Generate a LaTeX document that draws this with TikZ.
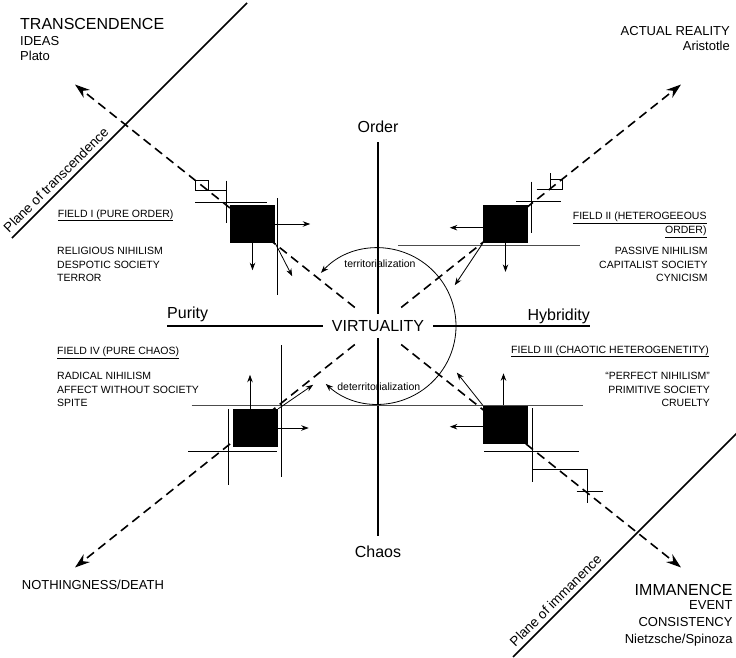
\documentclass[tikz,border=0pt]{standalone}
\usepackage{fontspec}
\setmainfont{Liberation Sans}
\usetikzlibrary{arrows.meta, positioning}

\tikzset{
  bigtxt/.style={font=\fontsize{16}{19}\selectfont, inner sep=0pt},
  midtxt/.style={font=\fontsize{13}{15.2}\selectfont, inner sep=0pt},
  smalltxt/.style={font=\fontsize{10.5}{13.4}\selectfont, inner sep=0pt},
  planetxt/.style={font=\fontsize{13.5}{16}\selectfont, inner sep=0pt, rotate=45, anchor=base west},
  fieldbox/.style={fill=black, minimum width=45pt, minimum height=38pt, inner sep=0pt},
  tend/.style={->, line width=.8pt},
  flow/.style={line width=1.6pt, dash pattern=on 9pt off 5.5pt, -{Stealth[length=15pt, width=10pt]}, shorten <=10pt},
  axisline/.style={line width=1.8pt},
  regline/.style={line width=.8pt},
  longline/.style={line width=1pt, draw=black!70},
  planeline/.style={line width=1.5pt}
}

\begin{document}
\begin{tikzpicture}[x=1pt, y=-1pt, >={Stealth[length=7.5pt, width=5.5pt]}]
\useasboundingbox (0,0) rectangle (736,658);

% corner labels (multi-line nodes sit on their last baseline)
\node[bigtxt, anchor=base west] (trans) at (20,29.3) {TRANSCENDENCE};
\node[midtxt, anchor=base west, align=left] (ideas) at (20,61) {IDEAS\\Plato};
\node[midtxt, anchor=base east, align=right] (actual) at (730,51) {ACTUAL REALITY\\Aristotle};
\node[midtxt, anchor=base west] (nothing) at (21.7,589.3) {NOTHINGNESS/DEATH};
\node[bigtxt, anchor=base east] (imman) at (732.7,595) {IMMANENCE};
\node[midtxt, anchor=base east, align=right, font=\fontsize{13}{16.8}\selectfont] (event) at (732.7,643.3) {EVENT\\CONSISTENCY\\Nietzsche/Spinoza};

% planes
\draw[planeline] (12,238) -- (247,3);
\node[planetxt] (ptrans) at (9,233.5) {Plane of transcendence};
\draw[planeline] (513,657) -- (737,433);
\node[planetxt] (pimman) at (515.3,647.3) {Plane of immanence};

% axes
\node[bigtxt, inner xsep=9pt, inner ysep=6.5pt] (virt) at (378,326) {VIRTUALITY};
\node[bigtxt, inner ysep=9.3pt] (order) at (378,126.7) {Order};
\node[bigtxt, inner ysep=9.8pt] (chaos) at (378,551.7) {Chaos};
\coordinate (pl) at (167,326);
\coordinate (hr) at (590,326);
\node[bigtxt, anchor=base west] (purity) at (167,318.7) {Purity};
\node[bigtxt, anchor=base east] (hybrid) at (590,320) {Hybridity};
\draw[axisline] (virt) -- (order);
\draw[axisline] (virt) -- (chaos);
\draw[axisline] (virt) -- (pl);
\draw[axisline] (virt) -- (hr);

% (de)territorialization
\draw[line width=.8pt, <->] ([shift={(137:78pt)}]virt.center) arc[start angle=137, end angle=-132, radius=78pt];
\node[smalltxt, anchor=base] (terr) at (380,267.3) {territorialization};
\node[smalltxt, anchor=base] (deterr) at (378.8,390) {deterritorialization};

% dashed flows
\coordinate (tl) at (75,84.5);
\coordinate (tr) at (681,84.5);
\coordinate (bl) at (75,567.5);
\coordinate (br) at (681,567.5);
\draw[flow] (virt) -- (tl);
\draw[flow] (virt) -- (tr);
\draw[flow] (virt) -- (bl);
\draw[flow] (virt) -- (br);

% long lines
\draw[longline] (398,245) -- (580,245);
\draw[longline] (191.7,405) -- (582.7,405);

% field I
\draw[regline] (195,180) rectangle (208.5,190);
\draw[regline] (208.5,190) -- (226.5,190);
\draw[regline] (226.5,180.5) -- (226.5,223.3);
\draw[regline] (195,202.7) -- (266.7,202.7);
\draw[regline] (277.5,198) -- (277.5,295);
\node[fieldbox] (f1) at (252.5,224) {};
\coordinate[right=35pt of f1.east] (f1r);
\coordinate[below=27pt of f1.south] (f1d);
\coordinate[below right=33pt and 17pt of f1.south east] (f1x);
\draw[tend] (f1.east) -- (f1r);
\draw[tend] (f1.south) -- (f1d);
\draw[tend] (f1.south east) -- (f1x);

% field II
\draw[regline] (531,181.7) -- (531,233.3);
\draw[regline] (516,201.7) -- (560.7,201.7);
\draw[regline] (550,173.3) -- (550,189.3);
\draw[regline] (550,179.3) -- (562.7,179.3) -- (562.7,189.3);
\draw[regline] (536.7,189.3) -- (562.7,189.3);
\node[fieldbox] (f2) at (505.5,224) {};
\coordinate[left=33pt of {[yshift=-3.7pt]f2.west}] (f2l);
\coordinate[below=28.7pt of f2.south] (f2d);
\coordinate[below left=42pt and 28pt of f2.south west] (f2x);
\draw[tend] ([yshift=-3.7pt]f2.west) -- (f2l);
\draw[tend] (f2.south) -- (f2d);
\draw[tend] (f2.south west) -- (f2x);

% field III
\draw[regline] (532.3,408.3) -- (532.3,481.7);
\draw[regline] (484,451) -- (579,451);
\draw[regline] (532.3,469.3) -- (587.7,469.3) -- (587.7,502.7);
\draw[regline] (576.7,491.7) -- (603.3,491.7);
\node[fieldbox] (f3) at (505.5,424.5) {};
\coordinate[left=33pt of {[yshift=-2.2pt]f3.west}] (f3l);
\coordinate[above=32pt of {[xshift=-2pt]f3.north}] (f3u);
\coordinate[above left=32.7pt and 26pt of f3.north west] (f3x);
\draw[tend] ([yshift=-2.2pt]f3.west) -- (f3l);
\draw[tend] ([xshift=-2pt]f3.north) -- (f3u);
\draw[tend] (f3.north west) -- (f3x);

% field IV
\draw[regline] (228.3,409.3) -- (228.3,485);
\draw[regline] (281.7,345) -- (281.7,476.7);
\draw[regline] (188,451.7) -- (276.5,451.7);
\node[fieldbox] (f4) at (255.5,428) {};
\coordinate[above=34pt of {[xshift=-5.5pt]f4.north}] (f4u);
\coordinate[right=30.5pt of f4.east] (f4r);
\coordinate[above right=24pt and 35pt of f4.north east] (f4x);
\draw[tend] ([xshift=-5.5pt]f4.north) -- (f4u);
\draw[tend] (f4.east) -- (f4r);
\draw[tend] (f4.north east) -- (f4x);

% field texts
\node[smalltxt, anchor=base west] (t1) at (57.7,217) {\underline{FIELD I (PURE ORDER)}};
\node[smalltxt, anchor=base west, align=left] (l1) at (57,281.6) {RELIGIOUS NIHILISM\\DESPOTIC SOCIETY\\TERROR};
\node[smalltxt, anchor=base east, align=right] (t2) at (706.7,233.7) {\underline{FIELD II (HETEROGEEOUS}\\[.6pt]\underline{ORDER)}};
\node[smalltxt, anchor=base east, align=right] (l2) at (707.7,281.5) {PASSIVE NIHILISM\\CAPITALIST SOCIETY\\CYNICISM};
\node[smalltxt, anchor=base west] (t3) at (511,353) {\underline{FIELD III (CHAOTIC HETEROGENETITY)}};
\node[smalltxt, anchor=base east, align=right] (l3) at (710,406.5) {“PERFECT NIHILISM”\\PRIMITIVE SOCIETY\\CRUELTY};
\node[smalltxt, anchor=base west] (t4) at (57,354.7) {\underline{FIELD IV (PURE CHAOS)}};
\node[smalltxt, anchor=base west, align=left] (l4) at (57,406.5) {RADICAL NIHILISM\\AFFECT WITHOUT SOCIETY\\SPITE};

\end{tikzpicture}
\end{document}
